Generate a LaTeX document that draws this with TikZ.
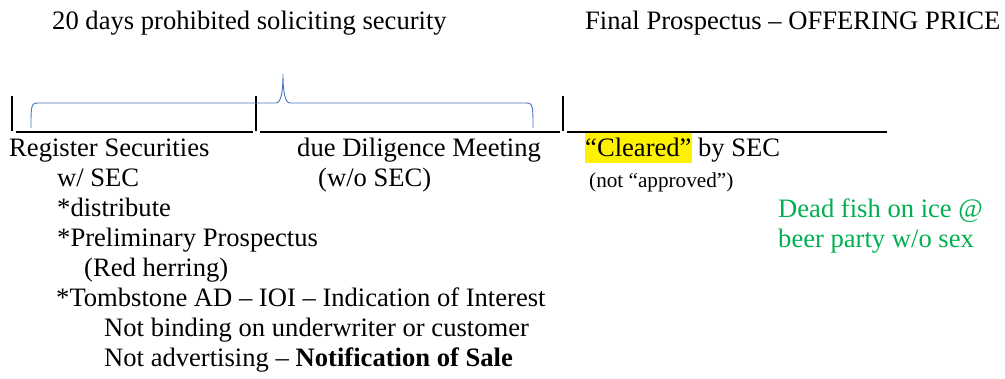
\documentclass[tikz,border=0pt]{standalone}
\usepackage{fontspec}
\setmainfont{Liberation Serif}
\usepackage{tikz}
\definecolor{braceblue}{RGB}{68,114,196}
\definecolor{fishgreen}{RGB}{0,176,80}
\tikzstyle{txt} = [inner sep=0pt, anchor=base west, font=\fontsize{26.6}{30}\selectfont]
\tikzstyle{smalltxt} = [inner sep=0pt, anchor=base west, font=\fontsize{21.2}{24}\selectfont]
\tikzstyle{tick} = [line width=1.7pt]
\tikzstyle{baseline} = [line width=1.4pt]
\tikzstyle{curly} = [draw=braceblue, line width=0.9pt]
\newcommand{\hilite}[1]{{\setlength{\fboxsep}{0pt}\colorbox{yellow}{\rule[-5.7pt]{0pt}{29.4pt}#1}}}

\begin{document}
\begin{tikzpicture}[x=1pt,y=-1pt]
    \useasboundingbox (0,0) rectangle (1005,379);
    % headings
    \node [txt] (head20) at (52,30) {20 days prohibited soliciting security};
    \node [txt] (headfinal) at (585,30) {Final Prospectus -- OFFERING PRICE};
    % time line
    \coordinate (t1) at (12,131);
    \coordinate (t2) at (256,131);
    \coordinate (t3) at (563,131);
    \coordinate (tend) at (887,131);
    \draw [tick] (t1) -- ++(0,-35);
    \draw [tick] (t2) -- ++(0,-35);
    \draw [tick] (t3) -- ++(0,-35);
    \draw [baseline] ([xshift=4pt,yshift=-1pt]t1) -- ([xshift=-3pt,yshift=-1pt]t2);
    \draw [baseline] ([xshift=4pt,yshift=-1pt]t2) -- ([xshift=-3pt,yshift=-1pt]t3);
    \draw [baseline] ([xshift=4pt,yshift=-1pt]t3) -- ([yshift=-1pt]tend);
    % brace
    \draw [curly] (31,128) .. controls (31,106) and (31,103) .. (38,103) -- (276,103)
        .. controls (281,103) and (283,92) .. (283,74)
        .. controls (283,92) and (285,103) .. (290,103) -- (526,103)
        .. controls (533,103) and (533,106) .. (533,128);
    % register
    \node [txt] (register) at (9,157) {Register Securities};
    \node [txt] (withsec) at (57,187) {w/ SEC};
    \node [txt] (distribute) at (57,217) {*distribute};
    \node [txt] (prelim) at (57,247) {*Preliminary Prospectus};
    \node [txt] (herring) at (84,277) {(Red herring)};
    \node [txt] (tombstone) at (56,307) {*Tombstone AD -- IOI -- Indication of Interest};
    \node [txt] (binding) at (104,337) {Not binding on underwriter or customer};
    \node [txt] (advert) at (104,367) {Not advertising -- \textbf{Notification of Sale}};
    % due diligence
    \node [txt] (diligence) at (297,157) {due Diligence Meeting};
    \node [txt] (withoutsec) at (318,187) {(w/o SEC)};
    % cleared
    \node [txt] (cleared) at (585,157) {\hilite{“Cleared”} by SEC};
    \node [smalltxt] (approved) at (589,188) {(not “approved”)};
    \node [txt, text=fishgreen] (fish) at (778,218) {Dead fish on ice @};
    \node [txt, text=fishgreen] (party) at (778,248) {beer party w/o sex};
\end{tikzpicture}
\end{document}
